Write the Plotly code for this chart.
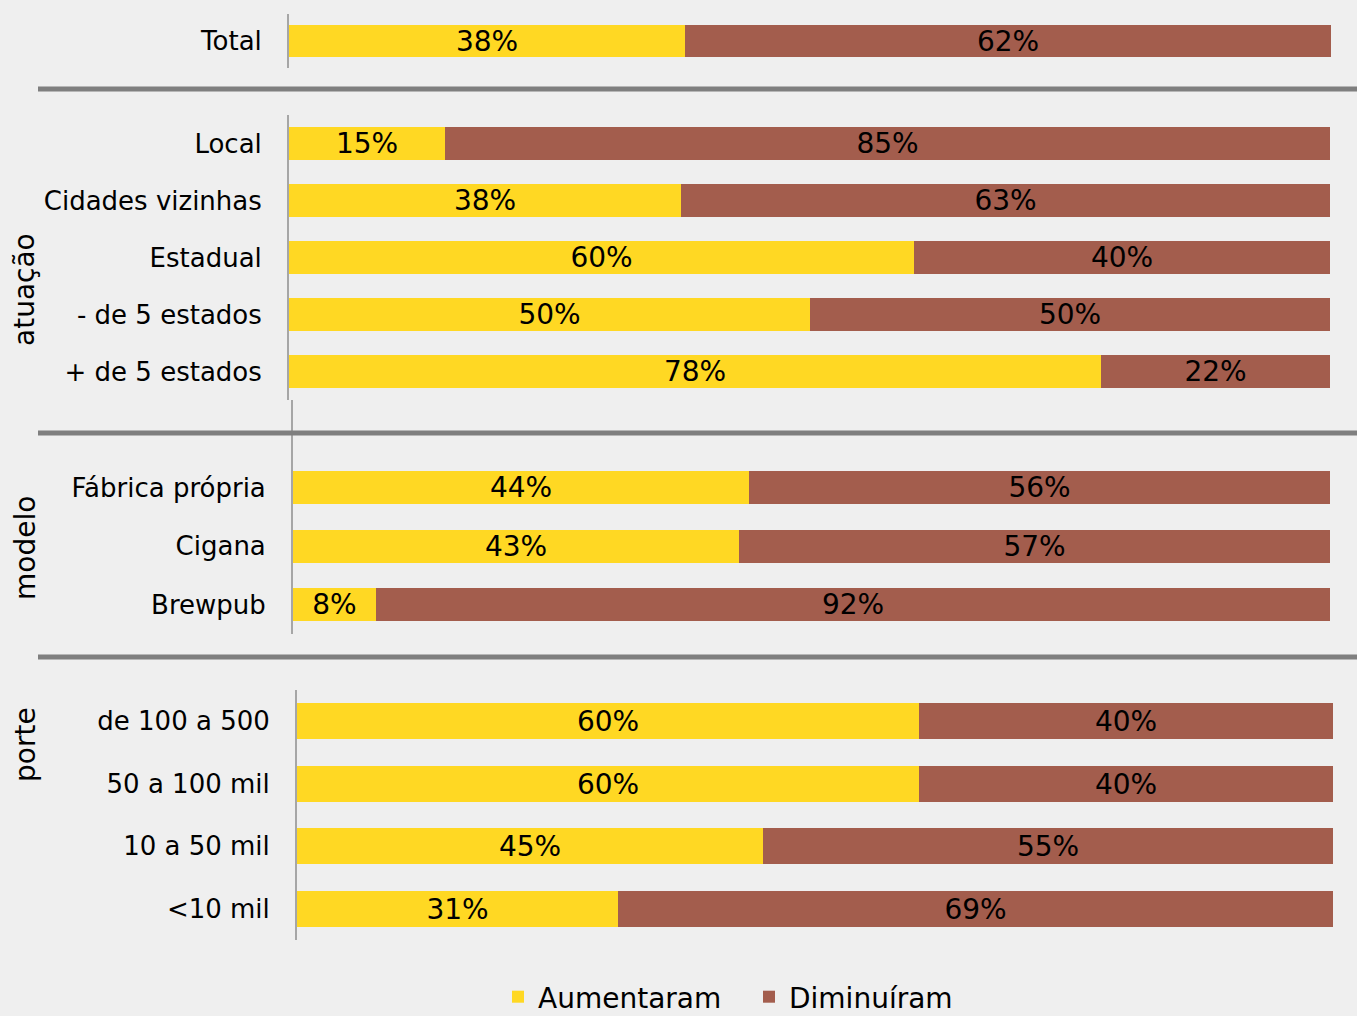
import plotly.graph_objects as go

# Share of breweries whose volume went up vs. down, by segment
total_cats = ["Total"]
total_up = [38]
total_down = [62]

atuacao_cats = ["Local", "Cidades vizinhas", "Estadual", "- de 5 estados", "+ de 5 estados"]
atuacao_up = [15, 38, 60, 50, 78]
atuacao_down = [85, 63, 40, 50, 22]

modelo_cats = ["Fábrica própria", "Cigana", "Brewpub"]
modelo_up = [44, 43, 8]
modelo_down = [56, 57, 92]

porte_cats = ["de 100 a 500", "50 a 100 mil", "10 a 50 mil", "<10 mil"]
porte_up = [60, 60, 45, 31]
porte_down = [40, 40, 55, 69]

W, H = 1357, 1016
FONT = "DejaVu Sans"
YELLOW = "#FFD823"
BROWN = "#A35D4D"
AXIS_GRAY = "#A6A6A6"
SEP_GRAY = "#7F7F7F"
BG = "#EFEFEF"


def px_x(x):
    return x / W


def px_y(y):
    return 1 - y / H


panels = [
    # cats, up, down, x pixel extent, y pixel extent, bar width, y range
    (total_cats, total_up, total_down, (289, 1331), (14, 68), 0.61, [0.5, -0.5]),
    (atuacao_cats, atuacao_up, atuacao_down, (289, 1330), (115, 400), 0.58, [4.5, -0.5]),
    (modelo_cats, modelo_up, modelo_down, (293, 1330), (400, 634), 0.56, [2.5, -1.5]),
    (porte_cats, porte_up, porte_down, (297, 1333), (690, 940), 0.58, [3.5, -0.5]),
]

fig = go.Figure()
layout_axes = {}

for i, (cats, up, down, (x0, x1), (y0, y1), bw, yr) in enumerate(panels):
    n = "" if i == 0 else str(i + 1)
    xa, ya = "x" + n, "y" + n
    for name, vals, color in (("Aumentaram", up, YELLOW), ("Diminuíram", down, BROWN)):
        fig.add_trace(go.Bar(
            y=cats, x=vals, orientation="h", name=name,
            marker=dict(color=color, line=dict(width=0)),
            width=bw,
            text=[f"{v}%" for v in vals],
            textposition="inside", insidetextanchor="middle",
            textfont=dict(family=FONT, size=28, color="black"),
            constraintext="none",
            showlegend=(i == 0), legendgroup=name,
            xaxis=xa, yaxis=ya, hoverinfo="skip",
        ))
    layout_axes["xaxis" + n] = dict(
        domain=[px_x(x0), px_x(x1)], range=[0, 100], anchor=ya,
        visible=False, fixedrange=True,
    )
    layout_axes["yaxis" + n] = dict(
        domain=[px_y(y1), px_y(y0)], anchor=xa, type="category",
        categoryorder="array", categoryarray=cats, range=yr,
        showline=True, linecolor=AXIS_GRAY, linewidth=2,
        showgrid=False, zeroline=False, ticks="",
        ticklabelstandoff=20,
        tickfont=dict(family=FONT, size=26, color="black"),
    )

# Horizontal separators between segment groups
shapes = []
for y in (89, 433, 657):
    shapes.append(dict(
        type="line", xref="paper", yref="paper",
        x0=px_x(38), x1=1, y0=px_y(y), y1=px_y(y),
        line=dict(color=SEP_GRAY, width=5),
    ))

# Vertical group titles
annotations = []
for text, yc in (("atuação", 290), ("modelo", 548), ("porte", 745)):
    annotations.append(dict(
        text=text, x=px_x(25), y=px_y(yc), xref="paper", yref="paper",
        textangle=-90, showarrow=False, xanchor="center", yanchor="middle",
        font=dict(family=FONT, size=28, color="black"),
    ))

fig.update_layout(
    width=W, height=H,
    margin=dict(l=0, r=0, t=0, b=0, autoexpand=False),
    paper_bgcolor=BG, plot_bgcolor="rgba(0,0,0,0)",
    barmode="stack", barnorm="percent", bargap=0,
    font=dict(family=FONT, color="black"),
    showlegend=True,
    legend=dict(
        orientation="h", x=px_x(498), xanchor="left",
        y=px_y(997), yanchor="middle",
        font=dict(family=FONT, size=28, color="black"),
        bgcolor="rgba(0,0,0,0)", itemwidth=30, tracegroupgap=0,
        entrywidth=206, entrywidthmode="pixels",
    ),
    shapes=shapes,
    annotations=annotations,
    **layout_axes,
)

fig.write_html("out.html")
